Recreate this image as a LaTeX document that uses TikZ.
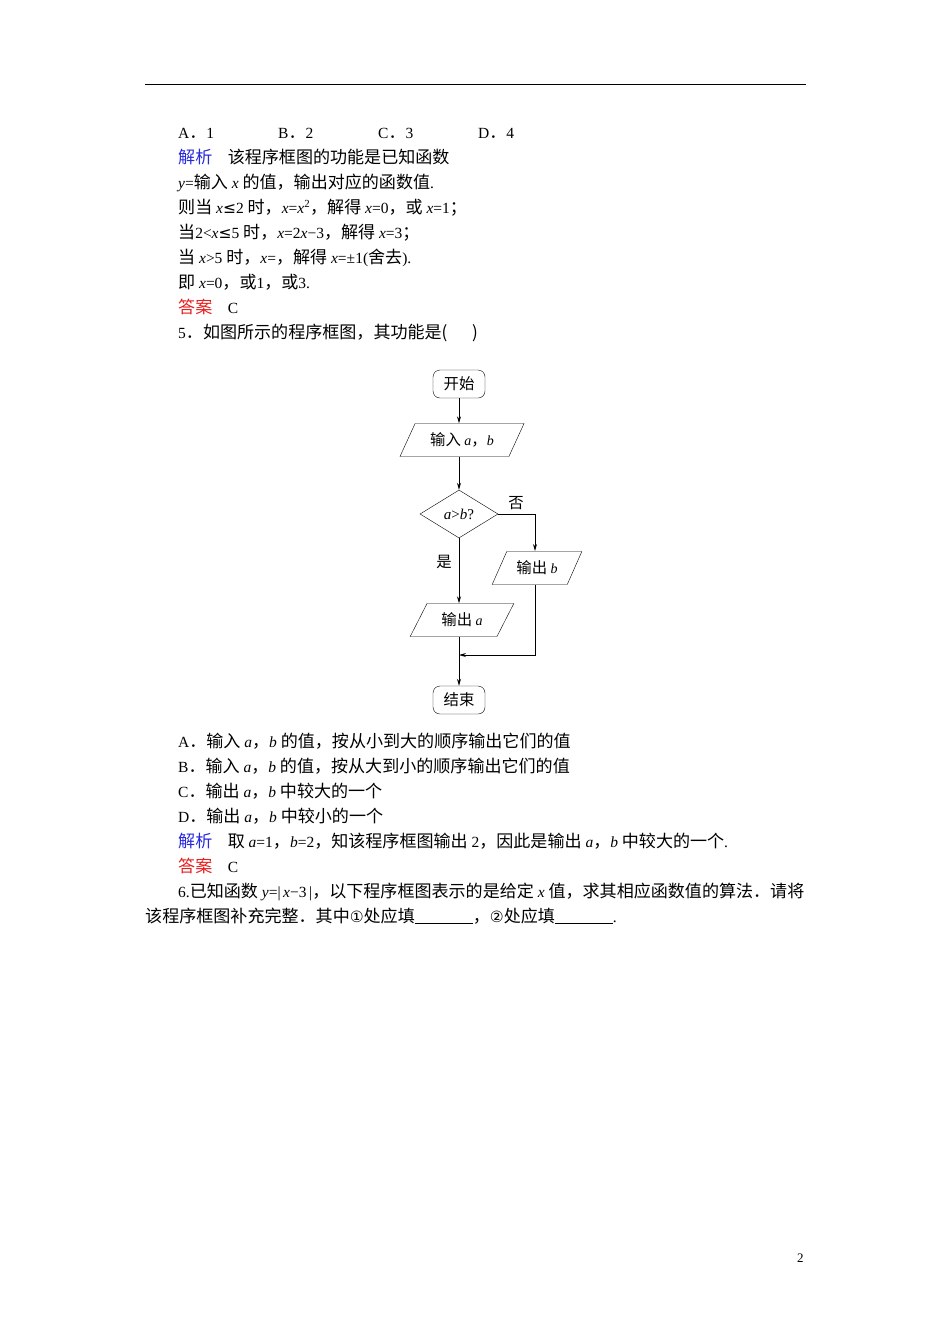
\documentclass[tikz,border=0pt]{standalone}
\usepackage{fontspec}
\setmainfont{Liberation Serif}
\newfontfamily\cjk[Scale=1.1]{Noto Sans CJK SC}
\newfontfamily\sym{DejaVu Sans}
\usetikzlibrary{shapes.geometric,arrows.meta}
\definecolor{blu}{RGB}{40,40,220}
\definecolor{rd}{RGB}{230,30,30}
\begin{document}
\begin{tikzpicture}[x=1pt,y=-1pt,
  txt/.style={anchor=base west,inner sep=0,font=\fontsize{15.5}{15.5}\selectfont},
  term/.style={draw,rounded corners=7pt,minimum width=52pt,minimum height=28pt,inner sep=0,font=\cjk\fontsize{14}{14}\selectfont},
  io/.style={draw,trapezium,trapezium left angle=55,trapezium right angle=125,trapezium stretches=true,minimum height=33pt,inner sep=0pt,font=\cjk\fontsize{14}{14}\selectfont},
  dec/.style={draw,diamond,aspect=1.6,minimum width=78pt,minimum height=48pt,inner sep=0,font=\fontsize{15}{15}\selectfont},
  arr/.style={-{Stealth[length=7pt,width=4pt]},line width=0.8pt},
  lab/.style={font=\cjk\fontsize{14}{14}\selectfont,inner sep=0}]
\useasboundingbox (0,0) rectangle (950,1344);
\fill[white] (0,0) rectangle (950,1344);
\coordinate (r1) at (145,84); \coordinate (r2) at (806,84);
\draw[line width=0.8pt] (r1) -- (r2);
\node[txt] (a1) at (178,138) {A\cjk．\rmfamily 1};
\node[txt] (a2) at (278,138) {B\cjk．\rmfamily 2};
\node[txt] (a3) at (378,138) {C\cjk．\rmfamily 3};
\node[txt] (a4) at (478,138) {D\cjk．\rmfamily 4};
\node[txt] (l1) at (178,163) {{\cjk\color{blu}解析}\quad{\cjk 该程序框图的功能是已知函数}};
\node[txt] (l2) at (178,188) {\textit{y}={\cjk 输入} \textit{x} {\cjk 的值，输出对应的函数值}.};
\node[txt] (l3) at (178,213) {{\cjk 则当} \textit{x}{\sym ≤}2 {\cjk 时，}\textit{x}=\textit{x}\textsuperscript{2}{\cjk ，解得} \textit{x}=0{\cjk ，或} \textit{x}=1{\cjk ；}};
\node[txt] (l4) at (178,238) {{\cjk 当}2<\textit{x}{\sym ≤}5 {\cjk 时，}\textit{x}=2\textit{x}−3{\cjk ，解得} \textit{x}=3{\cjk ；}};
\node[txt] (l5) at (178,263) {{\cjk 当} \textit{x}>5 {\cjk 时，}\textit{x}={\cjk ，解得} \textit{x}=±1({\cjk 舍去}).};
\node[txt] (l6) at (178,288) {{\cjk 即} \textit{x}=0{\cjk ，或}1{\cjk ，或}3.};
\node[txt] (l7) at (178,313) {{\cjk\color{rd}答案}\quad C};
\node[txt] (l8) at (178,338) {5{\cjk ．如图所示的程序框图，其功能是(\quad\ \ )}};
% flowchart
\node[term] (st) at (459,384) {开始};
\node[io,minimum width=125pt] (in) at (462,440) {输入 \rmfamily\textit{a}\cjk，\rmfamily\textit{b}};
\node[dec] (d) at (459,514) {\textit{a}>\textit{b}?};
\node[io,minimum width=90pt] (ob) at (537,568) {输出 \rmfamily\textit{b}};
\node[io,minimum width=104pt] (oa) at (462,620) {输出 \rmfamily\textit{a}};
\node[term] (en) at (459,700) {结束};
\coordinate (m) at (459,655);
\coordinate (bt) at (535,551);
\coordinate (bb) at (535,585);
\node[lab] (no) at (516,503) {否};
\node[lab] (yes) at (444,562) {是};
\draw[arr] (st) -- (st|-in.north);
\draw[arr] (st|-in.south) -- (d);
\draw[arr] (d.east) -| (bt);
\draw[arr] (d.south) -- (d.south|-oa.north);
\draw[arr] (bb) |- (m);
\draw[arr] (d|-oa.south) -- (en);
\node[txt] (b1) at (178,747) {A{\cjk ．输入} \textit{a}{\cjk ，}\textit{b} {\cjk 的值，按从小到大的顺序输出它们的值}};
\node[txt] (b2) at (178,772) {B{\cjk ．输入} \textit{a}{\cjk ，}\textit{b} {\cjk 的值，按从大到小的顺序输出它们的值}};
\node[txt] (b3) at (178,797) {C{\cjk ．输出} \textit{a}{\cjk ，}\textit{b} {\cjk 中较大的一个}};
\node[txt] (b4) at (178,822) {D{\cjk ．输出} \textit{a}{\cjk ，}\textit{b} {\cjk 中较小的一个}};
\node[txt] (b5) at (178,847) {{\cjk\color{blu}解析}\quad{\cjk 取} \textit{a}=1{\cjk ，}\textit{b}=2{\cjk ，知该程序框图输出} 2{\cjk ，因此是输出} \textit{a}{\cjk ，}\textit{b} {\cjk 中较大的一个}.};
\node[txt] (b6) at (178,872) {{\cjk\color{rd}答案}\quad C};
\node[txt] (b7) at (178,897) {6.{\cjk 已知函数} \textit{y}=|\,\textit{x}−3\,|{\cjk ，以下程序框图表示的是给定} \textit{x} {\cjk 值，求其相应函数值的算法．请将}};
\node[txt] (b8) at (145,922) {{\cjk 该程序框图补充完整．其中}{\sym ①}{\cjk 处应填}\underline{\hspace{58pt}}{\cjk ，}{\sym ②}{\cjk 处应填}\underline{\hspace{58pt}}.};
\node[txt] (pn) at (797,1262) {\fontsize{13}{13}\selectfont 2};
\end{tikzpicture}
\end{document}
